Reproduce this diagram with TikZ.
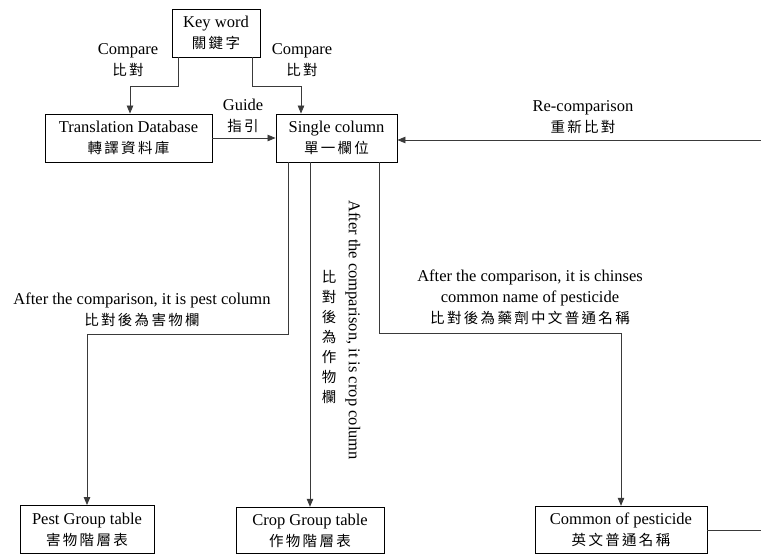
\documentclass[tikz,border=0pt]{standalone}
\usepackage{fontspec}
\setmainfont{Liberation Serif}
\newfontfamily\cjkfont[LetterSpace=16]{Noto Sans CJK TC}
\usetikzlibrary{arrows.meta}
\newcommand\zhtext[1]{{\cjkfont\fontsize{14.5}{21}\selectfont #1}}
\definecolor{linegray}{HTML}{3A3A3A}
\tikzset{
  boxnode/.style={draw=black, line width=0.9pt, align=center, inner sep=0pt,
    font=\fontsize{16.5}{21}\selectfont},
  lbl/.style={align=center, inner sep=0pt, font=\fontsize{16.5}{21}\selectfont},
  conn/.style={draw=linegray, line width=0.8pt},
  arr/.style={conn, -{Triangle[length=8pt,width=6.5pt]}},
}
\begin{document}
\begin{tikzpicture}[x=1pt,y=-1pt]
\useasboundingbox (0,0) rectangle (761,554);
% boxes
\node[boxnode, minimum width=88pt, minimum height=48pt] (key) at (216,33) {Key word\\\zhtext{關鍵字}};
\node[boxnode, minimum width=167pt, minimum height=48pt] (trans) at (128.5,138) {Translation Database\\\zhtext{轉譯資料庫}};
\node[boxnode, minimum width=121pt, minimum height=48pt] (single) at (336.5,138) {Single column\\\zhtext{單一欄位}};
\node[boxnode, minimum width=134pt, minimum height=48pt] (pest) at (87,529.5) {Pest Group table\\\zhtext{害物階層表}};
\node[boxnode, minimum width=148pt, minimum height=46.5pt] (crop) at (310,530.5) {Crop Group table\\\zhtext{作物階層表}};
\node[boxnode, minimum width=172pt, minimum height=47.5pt] (common) at (621,530) {Common of pesticide\\\zhtext{英文普通名稱}};
% free ends
\coordinate (rightin) at (761,140);
\coordinate (rightout) at (761,530);
% labels
\node[lbl] (lcmp) at (128,60) {Compare\\\zhtext{比對}};
\node[lbl] (rcmp) at (302,60) {Compare\\\zhtext{比對}};
\node[lbl] (guide) at (243,116) {Guide\\\zhtext{指引}};
\node[lbl] (recmp) at (583,117) {Re-comparison\\\zhtext{重新比對}};
\node[lbl] (pestl) at (142,310) {After the comparison, it is pest column\\\zhtext{比對後為害物欄}};
\node[lbl] (coml) at (530,297) {After the comparison, it is chinses\\common name of pesticide\\\zhtext{比對後為藥劑中文普通名稱}};
\node[lbl, rotate=-90] (cropl) at (353,330) {After the comparison, it is crop column};
\node[lbl, font=\cjkfont\fontsize{14.5}{20}\selectfont] (cropz) at (329,337) {比\\對\\後\\為\\作\\物\\欄};
% connectors
\draw[arr] ([xshift=-38pt]key.south) |- (130,86) -- (trans.north -| 130,0);
\draw[arr] ([xshift=36pt]key.south) |- (301,86) -- (single.north -| 301,0);
\draw[arr] (trans.east) -- (single.west);
\draw[arr] (rightin) -- (rightin -| single.east);
\draw[arr] ([xshift=-48.5pt]single.south) |- (87,334) -- (pest.north);
\draw[arr] ([xshift=-26.5pt]single.south) -- (crop.north -| 310,0);
\draw[arr] ([xshift=42.5pt]single.south) |- (621,333) -- (common.north);
\draw[conn] (common.east |- rightout) -- (rightout);
\end{tikzpicture}
\end{document}
